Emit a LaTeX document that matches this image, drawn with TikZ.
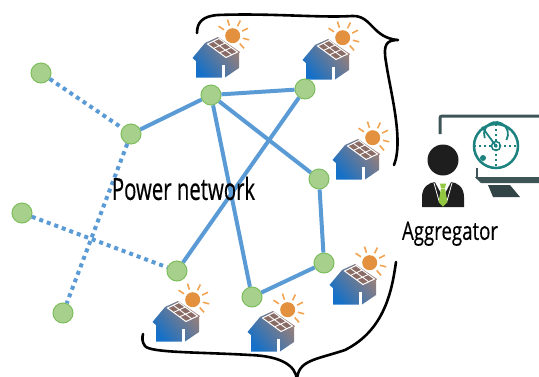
\documentclass[tikz,border=0pt]{standalone}
\usepackage{fontspec}
\newfontfamily\netfont{Open Sans}[FakeStretch=0.67, FakeBold=0.4]
\newfontfamily\aggfont{Open Sans}[FakeStretch=0.74, FakeBold=0.4]
\definecolor{linkblue}{HTML}{5B9BD5}
\definecolor{busfill}{HTML}{A8D08D}
\definecolor{busedge}{HTML}{7DBE5C}
\definecolor{houseblue}{HTML}{1470C8}
\definecolor{housemauve}{HTML}{A08075}
\definecolor{panelbrown}{HTML}{8A6C66}
\definecolor{sunorange}{HTML}{E3913F}
\definecolor{rayorange}{HTML}{F2A452}
\definecolor{monitorgray}{HTML}{3E5557}
\definecolor{radarteal}{HTML}{1B827F}
\definecolor{tiegreen}{HTML}{92C741}
\definecolor{suitblack}{HTML}{1E1E1E}
\tikzset{
  bus/.style={circle, fill=busfill, draw=busedge, line width=1pt, minimum size=20pt, inner sep=0pt},
  link/.style={linkblue, line width=4pt},
  dotlink/.style={linkblue, line width=4pt, dash pattern=on 4pt off 4pt},
  brace/.style={black, line width=2.6pt, line cap=round, line join=round},
  label/.style={text=black, inner sep=0pt},
  house/.pic={
    % sun behind the roof
    \fill[sunorange] (17.7,-21.3) circle[radius=7.5pt];
    \foreach \a in {-146,-108,-63,-26,14,48}
      \draw[rayorange, line width=1.6pt] (17.7,-21.3) ++(\a:10.5) -- ++(\a:6.5);
    % house body with gradient
    \shade[top color=housemauve, bottom color=houseblue, shading angle=-50]
      (-22.5,1) -- (-10,-14) -- (3,-20) -- (25,-5) -- (24,-4) -- (24,11)
      -- (10,20.5) -- (-19,20.5) -- (-19,4) -- cycle;
    % solar panel on the roof
    \fill[panelbrown, draw=white, line width=1pt]
      (-7.5,-13) -- (4,-18.5) -- (22.5,-5) -- (11,0.5) -- cycle;
    \draw[white, line width=0.9pt]
      (-1.75,-15.75) -- (16.75,-2.25)
      (-1.3,-8.7) -- (10.2,-14)
      (4.8,-4.3) -- (16.3,-9.5);
    % door
    \fill[white] (7,8) rectangle (10,20.6);
  }
}
\begin{document}
\begin{tikzpicture}[x=1pt, y=-1pt]
\useasboundingbox (0,0) rectangle (539,376);

% prosumer houses
\pic at (215,57) {house};
\pic at (325,59) {house};
\pic at (355,159) {house};
\pic at (352,284) {house};
\pic at (175,321) {house};
\pic at (270,331) {house};

% grid buses
\node[bus] (a) at (41,73) {};
\node[bus] (b) at (131,134) {};
\node[bus] (c) at (211,95) {};
\node[bus] (d) at (305,89) {};
\node[bus] (e) at (319,179) {};
\node[bus] (f) at (324,263) {};
\node[bus] (g) at (252,297) {};
\node[bus] (h) at (177,271) {};
\node[bus] (i) at (22,213) {};
\node[bus] (j) at (63,313) {};

% lines of the power network
\draw[link] (b) -- (c);
\draw[link] (c) -- (d);
\draw[link] (c) -- (e);
\draw[link] (c) -- (g);
\draw[link] (d) -- (h);
\draw[link] (e) -- (f);
\draw[link] (f) -- (g);
\draw[dotlink] (a) -- (b);
\draw[dotlink] (b) -- (j);
\draw[dotlink] (i) -- (h);

\node[label, font=\netfont\fontsize{30.4}{34}\selectfont] (pn) at (183.5,188.5) {Power network};

% braces around the houses
\draw[brace] (197,33) .. controls (197,22) and (203,16) .. (218,15)
  .. controls (270,13) and (320,18) .. (352,16)
  .. controls (372,15) and (372,38) .. (398,40)
  .. controls (386,40) and (383,45) .. (386,62)
  .. controls (390,90) and (404,140) .. (394,165);
\draw[brace] (396,262) .. controls (392,290) and (385,330) .. (345,350)
  .. controls (315,360) and (298,360) .. (297,380);
\draw[brace] (297,380) .. controls (296,365) and (280,356) .. (250,355)
  .. controls (200,352) and (150,353) .. (145,346)
  .. controls (142,342) and (142,338) .. (143,334);

% monitor
\draw[monitorgray, line width=3pt, rounded corners=2pt] (440,134) -- (440,116) -- (545,116);
\draw[monitorgray, line width=2.5pt] (477,168) -- (477,179);
\fill[monitorgray] (475,177) -- (545,177) -- (545,183) -- (481,183) -- cycle;
\fill[monitorgray!80!black] (488,185) -- (510,185) -- (520,197) -- (493,197) -- cycle;

% radar on the screen
\draw[radarteal, line width=2.5pt] (496,146) circle[radius=22pt];
\draw[radarteal, line width=1.8pt] (496,146) ++(-30:12) arc[start angle=-30, end angle=200, radius=12pt];
\draw[radarteal, line width=1.5pt] (496,146) circle[radius=4.5pt];
\fill[radarteal] (496,146) circle[radius=1.8pt];
\draw[radarteal, line width=1.8pt] (496,146) -- (482,127);
\fill[radarteal] (483,158) circle[radius=3pt];
\draw[radarteal, line width=1.3pt, dash pattern=on 1.5pt off 3.5pt] (474,146) -- (518,146) (496,124) -- (496,168);

% aggregator person
\fill[suitblack] (422,207) -- (422,197) .. controls (422,187) and (429,182) .. (436,182)
  -- (450,182) .. controls (457,182) and (464,187) .. (464,197) -- (464,207) -- cycle;
\fill[white] (435,182) -- (451,182) -- (443,197) -- cycle;
\draw[white, line width=0.8pt] (434,183) -- (439,201) (452,183) -- (447,201);
\fill[tiegreen] (440,183.5) -- (446,183.5) -- (445,188) -- (441,188) -- cycle;
\fill[tiegreen] (441,188.5) -- (445,188.5) -- (447.5,202) -- (443,206.5) -- (438.5,202) -- cycle;
\fill[suitblack] (443,160) circle[radius=15.5pt];

\node[label, font=\aggfont\fontsize{25.2}{28}\selectfont] (agg) at (450,233.8) {Aggregator};
\end{tikzpicture}
\end{document}
